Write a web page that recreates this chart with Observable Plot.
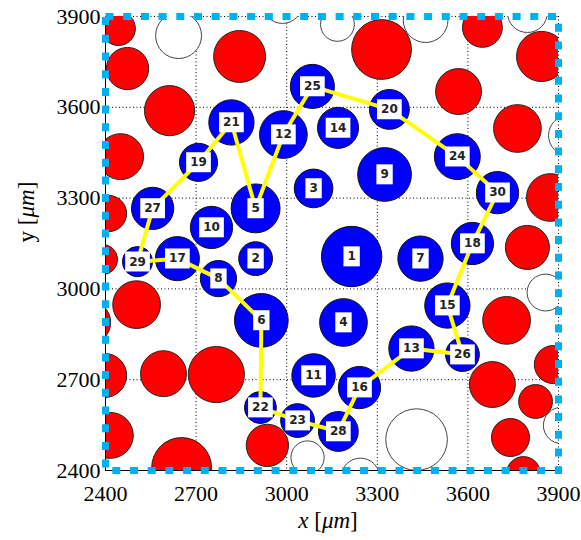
<!DOCTYPE html>
<html>
<head>
<meta charset="utf-8">
<script src="https://cdn.jsdelivr.net/npm/d3@7"></script>
<script src="https://cdn.jsdelivr.net/npm/@observablehq/plot@0.6"></script>
<style>
  html, body { margin: 0; padding: 0; background: white; }
</style>
</head>
<body>
<div id="chart"></div>
<script>
// Numbered (blue) grains: id, centre x, centre y, radius (µm)
const blueIds = [1,2,3,4,5,6,7,8,9,10,11,12,13,14,15,16,17,18,19,20,21,22,23,24,25,26,27,28,29,30];
const blueX = [3215,2897,3089,3188,2897,2916,3443,2774,3324,2751,3089,2989,3413,3170,3532,3241,2638,3615,2708,3340,2817,2913,3036,3565,3085,3582,2556,3171,2506,3698];
const blueY = [3107,3100,3332,2889,3266,2896,3100,3034,3378,3203,2714,3510,2803,3532,2945,2674,3100,3150,3418,3593,3550,2608,2565,3437,3669,2783,3266,2529,3090,3318];
const blueR = [100,56,64,79,81,89,75,60,89,70,72,79,75,68,75,70,73,70,63,66,75,53,56,76,73,56,70,66,50,70];

// Red grains
const redX = [2443,2473,2612,2844,3314,3648,3844,3569,3764,2450,2410,3873,2390,3797,2503,2344,3728,2397,2592,2767,3883,3681,3824,2416,2936,3741,2652,3784];
const redY = [3860,3728,3589,3768,3791,3864,3768,3652,3530,3437,3249,3302,3097,3137,2948,2889,2896,2714,2720,2717,2750,2684,2628,2516,2483,2509,2410,2390];
const redR = [56,70,83,86,99,66,83,76,79,76,60,79,50,73,79,73,79,73,76,93,63,76,56,76,70,63,99,56];

// Empty (white) grains
const emptyX = [2642,2986,3168,3460,3797,3933,3857,3910,3430,3069,3244];
const emptyY = [3837,3943,3874,3888,3913,3507,2988,2549,2502,2443,2377];
const emptyR = [76,66,56,74,66,66,61,60,102,55,64];

// Order of the yellow path through the numbered grains
const pathOrder = [29,27,19,21,5,12,25,20,24,30,18,15,26,13,16,28,23,22,6,8,17,29];

const tickValues = [2400,2700,3000,3300,3600,3900];
const gridValues = [2700,3000,3300,3600,3900];

const blue = blueIds.map((id,i)=>({id, x: blueX[i], y: blueY[i], r: blueR[i]}));
const red = redX.map((x,i)=>({x, y: redY[i], r: redR[i]}));
const empty = emptyX.map((x,i)=>({x, y: emptyY[i], r: emptyR[i]}));
const path = pathOrder.map(id => blue[id-1]);

const W = 581, H = 540, mL = 105, mR = 23, mT = 16, mB = 70;

const chart = Plot.plot({
  width: W, height: H,
  marginLeft: mL, marginRight: mR, marginTop: mT, marginBottom: mB,
  style: {fontFamily: "Liberation Serif", fontSize: "22px", background: "white", color: "black"},
  x: {domain: [2400, 3900]},
  y: {domain: [2400, 3900]},
  r: {type: "linear", domain: [0, 1500], range: [0, W - mL - mR]},
  marks: [
    Plot.gridX(gridValues, {stroke: "black", strokeOpacity: 1, strokeWidth: 1, strokeDasharray: "1,2.5"}),
    Plot.gridY(gridValues, {stroke: "black", strokeOpacity: 1, strokeWidth: 1, strokeDasharray: "1,2.5"}),
    Plot.dot(empty, {x: "x", y: "y", r: "r", fill: "white", stroke: "#444", strokeWidth: 1, clip: true}),
    Plot.dot(red, {x: "x", y: "y", r: "r", fill: "#ff0000", stroke: "#222", strokeWidth: 1, clip: true}),
    Plot.dot(blue, {x: "x", y: "y", r: "r", fill: "#0000ff", stroke: "#111", strokeWidth: 1}),
    Plot.line(path, {x: "x", y: "y", stroke: "#ffff00", strokeWidth: 4, curve: "linear"}),
    Plot.text(blue, {x: "x", y: "y", text: d => String(d.id), fontFamily: "DejaVu Sans", fontSize: 12, fontWeight: "bold", fill: "#222"}),
    Plot.ruleX([2400], {stroke: "black", strokeWidth: 1}),
    Plot.ruleY([2400], {stroke: "black", strokeWidth: 1}),
    Plot.frame({stroke: "#00b0f0", strokeWidth: 7, strokeDasharray: "8,9.7"}),
    Plot.axisX({ticks: tickValues, tickSize: 0, tickPadding: 15, label: null, tickFormat: d => String(d), fontSize: 22}),
    Plot.axisY({ticks: tickValues, tickSize: 0, tickPadding: 5, label: null, tickFormat: d => String(d), fontSize: 22})
  ]
});

document.getElementById("chart").appendChild(chart);

// white boxes behind grain numbers
const labelGroup = Array.from(chart.querySelectorAll('g[aria-label="text"]'))
  .find(g => g.querySelector("text") && g.querySelector("text").textContent === "1");
if (labelGroup) {
  Array.from(labelGroup.querySelectorAll("text")).forEach(t => {
    const b = t.getBBox();
    const cy = b.y + b.height / 2;
    const rect = document.createElementNS("http://www.w3.org/2000/svg", "rect");
    rect.setAttribute("x", b.x - 4);
    rect.setAttribute("y", cy - 10);
    rect.setAttribute("width", b.width + 8);
    rect.setAttribute("height", 20);
    rect.setAttribute("fill", "white");
    rect.setAttribute("stroke", "none");
    const tr = t.getAttribute("transform");
    if (tr) rect.setAttribute("transform", tr);
    labelGroup.insertBefore(rect, t);
  });
}

// axis titles
const svg = d3.select(chart);
const xt = svg.append("text")
  .attr("x", 328).attr("y", 528)
  .attr("text-anchor", "middle")
  .attr("font-family", "Liberation Serif").attr("font-size", 23).attr("fill", "black");
xt.append("tspan").attr("font-style", "italic").text("x");
xt.append("tspan").text(" [");
xt.append("tspan").attr("font-style", "italic").text("μm");
xt.append("tspan").text("]");

const yt = svg.append("text")
  .attr("transform", "translate(34,212) rotate(-90)")
  .attr("text-anchor", "middle")
  .attr("font-family", "Liberation Serif").attr("font-size", 23).attr("fill", "black");
yt.append("tspan").text("y [");
yt.append("tspan").attr("font-style", "italic").text("μm");
yt.append("tspan").text("]");
</script>
</body>
</html>
